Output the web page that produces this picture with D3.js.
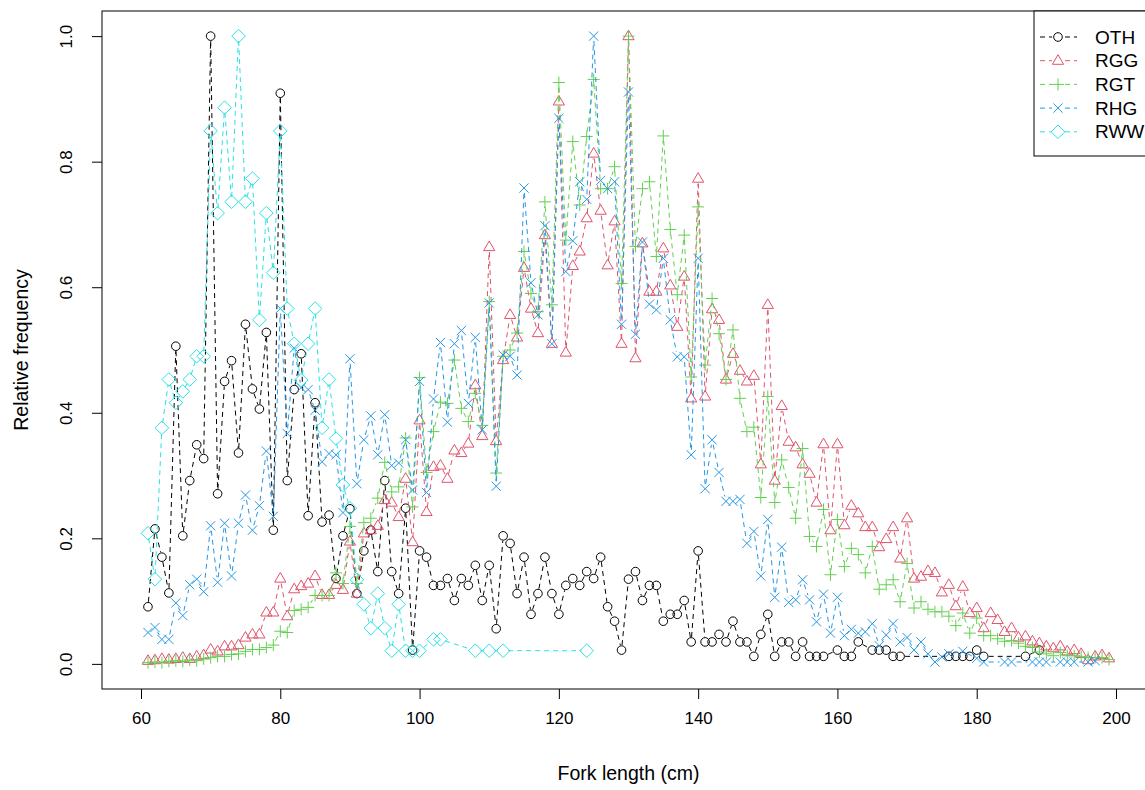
<!DOCTYPE html>
<html>
<head>
<meta charset="utf-8">
<script src="https://cdn.jsdelivr.net/npm/d3@7"></script>
<style>
  body { margin: 0; background: #fff; }
  svg { display: block; font-family: "Liberation Sans", Arial, sans-serif; }
</style>
</head>
<body>
<div id="chart"></div>
<script>
var W = 1145, H = 790;

// fork length categories (cm) and relative frequencies
var lenOTH = [61,62,63,64,65,66,67,68,69,70,71,72,73,74,75,76,77,78,79,80,81,82,83,84,85,86,87,88,89,90,
  91,92,93,94,95,96,97,98,99,100,101,102,103,104,105,106,107,108,109,110,111,112,113,114,115,116,117,118,119,120,
  121,122,123,124,125,126,127,128,129,130,131,132,133,134,135,136,137,138,139,140,141,142,143,144,145,146,147,148,149,150,
  151,152,153,154,155,156,157,158,160,161,162,163,165,166,167,168,169,176,177,178,179,180,181,187,189];
var valOTH = [0.091,0.215,0.17,0.113,0.506,0.204,0.292,0.349,0.327,1.0,0.271,0.45,0.483,0.336,0.541,0.438,0.406,0.528,0.213,0.909,
  0.292,0.437,0.494,0.236,0.416,0.226,0.237,0.136,0.204,0.247,0.112,0.18,0.213,0.147,0.292,0.147,0.112,0.248,0.022,0.18,
  0.17,0.125,0.125,0.136,0.101,0.136,0.125,0.157,0.101,0.157,0.056,0.204,0.192,0.112,0.17,0.079,0.112,0.17,0.112,0.079,
  0.125,0.136,0.125,0.147,0.136,0.17,0.091,0.068,0.022,0.135,0.147,0.101,0.125,0.125,0.068,0.079,0.079,0.101,0.035,0.18,
  0.035,0.035,0.047,0.035,0.068,0.035,0.035,0.012,0.047,0.079,0.012,0.035,0.035,0.012,0.035,0.012,0.012,0.012,0.022,0.012,
  0.012,0.035,0.022,0.022,0.022,0.012,0.012,0.012,0.012,0.012,0.012,0.022,0.012,0.012,0.022];

var lenRGG = d3.range(61, 200);
var valRGG = [0.005,0.006,0.008,0.007,0.008,0.01,0.008,0.012,0.014,0.023,0.02,0.028,0.028,0.03,0.042,0.047,0.047,0.082,0.082,0.136,
  0.076,0.119,0.124,0.128,0.14,0.11,0.11,0.126,0.118,0.195,0.112,0.208,0.213,0.22,0.261,0.257,0.234,0.295,0.194,0.388,
  0.242,0.314,0.316,0.295,0.34,0.336,0.351,0.444,0.363,0.664,0.355,0.484,0.556,0.52,0.631,0.566,0.527,0.683,0.51,0.896,
  0.496,0.634,0.657,0.71,0.813,0.722,0.635,0.705,0.51,1.0,0.487,0.67,0.593,0.593,0.662,0.603,0.537,0.617,0.423,0.773,
  0.426,0.565,0.548,0.453,0.494,0.467,0.45,0.459,0.318,0.572,0.292,0.411,0.354,0.345,0.318,0.303,0.257,0.35,0.213,0.35,
  0.221,0.252,0.24,0.218,0.218,0.186,0.199,0.218,0.168,0.232,0.136,0.139,0.148,0.145,0.114,0.126,0.092,0.123,0.081,0.089,
  0.057,0.081,0.07,0.051,0.057,0.042,0.044,0.036,0.033,0.028,0.025,0.028,0.02,0.022,0.016,0.006,0.012,0.014,0.009];

var lenRGT = d3.range(61, 200);
var valRGT = [0.002,0.003,0.002,0.004,0.005,0.004,0.006,0.005,0.008,0.01,0.012,0.012,0.015,0.016,0.02,0.023,0.023,0.026,0.03,0.052,
  0.05,0.085,0.087,0.09,0.109,0.109,0.109,0.145,0.128,0.219,0.128,0.225,0.232,0.264,0.321,0.274,0.282,0.36,0.25,0.456,
  0.305,0.37,0.417,0.415,0.484,0.407,0.386,0.431,0.38,0.577,0.304,0.49,0.5,0.527,0.657,0.59,0.561,0.736,0.572,0.926,
  0.675,0.832,0.731,0.84,0.931,0.757,0.757,0.792,0.606,1.0,0.665,0.757,0.768,0.649,0.841,0.692,0.588,0.683,0.457,0.728,
  0.476,0.582,0.526,0.453,0.532,0.423,0.37,0.377,0.265,0.426,0.257,0.325,0.281,0.232,0.343,0.203,0.187,0.246,0.142,0.23,
  0.155,0.184,0.174,0.145,0.187,0.119,0.126,0.134,0.099,0.16,0.089,0.099,0.087,0.083,0.083,0.076,0.061,0.081,0.049,0.073,
  0.045,0.045,0.04,0.036,0.037,0.033,0.028,0.026,0.019,0.016,0.013,0.018,0.013,0.013,0.012,0.01,0.01,0.01,0.007];

var lenRHG = [61,62,63,64,65,66,67,68,69,70,71,72,73,74,75,76,77,78,79,80,81,82,83,84,85,86,87,88,89,90,
  91,92,93,94,95,96,97,98,99,100,101,102,103,104,105,106,107,108,109,110,111,112,113,114,115,116,117,118,119,120,
  121,122,123,124,125,126,127,128,129,130,131,132,133,134,135,136,137,138,139,140,141,142,143,144,145,146,147,148,149,150,
  151,152,153,154,155,156,157,158,159,160,161,162,163,164,165,166,167,168,169,170,171,172,173,174,175,176,178,180,
  181,184,185,188,189,190,192,193,194,196,197];
var valRHG = [0.05,0.058,0.039,0.039,0.097,0.077,0.126,0.135,0.115,0.22,0.13,0.224,0.14,0.224,0.269,0.213,0.252,0.339,0.235,0.566,
  0.367,0.503,0.44,0.437,0.404,0.322,0.335,0.333,0.241,0.486,0.287,0.357,0.395,0.333,0.397,0.316,0.32,0.357,0.277,0.45,
  0.273,0.422,0.512,0.385,0.51,0.531,0.415,0.52,0.373,0.575,0.283,0.492,0.49,0.46,0.758,0.607,0.556,0.698,0.51,0.869,
  0.625,0.674,0.768,0.74,1.0,0.77,0.757,0.768,0.541,0.911,0.525,0.672,0.573,0.564,0.646,0.548,0.489,0.489,0.333,0.646,
  0.279,0.357,0.305,0.259,0.259,0.262,0.192,0.211,0.14,0.23,0.106,0.186,0.098,0.102,0.134,0.102,0.067,0.111,0.049,0.106,
  0.045,0.055,0.049,0.051,0.064,0.029,0.046,0.064,0.035,0.042,0.022,0.035,0.016,0.003,0.011,0.016,0.02,0.009,
  0.003,0.003,0.003,0.003,0.003,0.003,0.003,0.003,0.003,0.003,0.005];

var lenRWW = [61,62,63,64,65,66,67,68,69,70,71,72,73,74,75,76,77,78,79,80,81,82,83,84,85,86,87,88,89,90,
  91,92,93,94,95,96,97,98,99,100,102,103,108,110,112,124];
var valRWW = [0.208,0.135,0.376,0.453,0.416,0.434,0.453,0.49,0.49,0.849,0.718,0.886,0.736,1.0,0.736,0.773,0.548,0.718,0.623,0.849,
  0.566,0.51,0.452,0.51,0.566,0.376,0.453,0.359,0.285,0.248,0.134,0.095,0.057,0.112,0.057,0.021,0.095,0.021,0.021,0.021,
  0.039,0.039,0.021,0.021,0.021,0.021];

var seriesNames = ['OTH', 'RGG', 'RGT', 'RHG', 'RWW'];
var seriesLens = [lenOTH, lenRGG, lenRGT, lenRHG, lenRWW];
var seriesVals = [valOTH, valRGG, valRGT, valRHG, valRWW];
var colors = ['#000000', '#DF536B', '#61D04F', '#2297E6', '#28E2E5'];
var xTicks = [60, 80, 100, 120, 140, 160, 180, 200];
var yTicks = [0, 0.2, 0.4, 0.6, 0.8, 1.0];

// plot box (R style, 4% padding on each axis)
var box = { left: 102, right: 1155, top: 11, bottom: 689 };

var svg = d3.select('#chart').append('svg')
  .attr('width', W)
  .attr('height', H);

var x = d3.scaleLinear().domain([54.4, 205.6]).range([box.left, box.right]);
var y = d3.scaleLinear().domain([-0.04, 1.04]).range([box.bottom, box.top]);

// point symbols, one per series
var symbols = [
  function (g) { g.append('circle').attr('r', 4.3); },
  function (g) { g.append('path').attr('d', 'M0,-6L5.6,3.6L-5.6,3.6Z'); },
  function (g) { g.append('path').attr('d', 'M-6,0H6M0,-6V6'); },
  function (g) { g.append('path').attr('d', 'M-4.6,-4.6L4.6,4.6M-4.6,4.6L4.6,-4.6'); },
  function (g) { g.append('path').attr('d', 'M0,-6.8L6.8,0L0,6.8L-6.8,0Z'); }
];

// type="b": dashed segments with a gap around every point
var gap = 5;
seriesNames.forEach(function (name, s) {
  var pts = seriesLens[s].map(function (l, i) { return [x(l), y(seriesVals[s][i])]; });
  var segs = [];
  for (var i = 1; i < pts.length; i++) {
    var dx = pts[i][0] - pts[i - 1][0], dy = pts[i][1] - pts[i - 1][1];
    var len = Math.sqrt(dx * dx + dy * dy);
    if (len <= 2 * gap) continue;
    var ux = dx / len, uy = dy / len;
    segs.push([pts[i - 1][0] + ux * gap, pts[i - 1][1] + uy * gap, pts[i][0] - ux * gap, pts[i][1] - uy * gap]);
  }
  var g = svg.append('g').attr('class', 'series-' + name);
  g.selectAll('line').data(segs).enter().append('line')
    .attr('x1', d => d[0]).attr('y1', d => d[1])
    .attr('x2', d => d[2]).attr('y2', d => d[3])
    .attr('stroke', colors[s])
    .attr('stroke-width', 1)
    .attr('stroke-dasharray', '5,4');
  g.selectAll('g.pt').data(pts).enter().append('g')
    .attr('class', 'pt')
    .attr('transform', d => `translate(${d[0]},${d[1]})`)
    .attr('fill', 'none')
    .attr('stroke', colors[s])
    .attr('stroke-width', 1)
    .each(function () { symbols[s](d3.select(this)); });
});

// axes
var xAxis = svg.append('g')
  .attr('transform', `translate(0,${box.bottom})`)
  .call(d3.axisBottom(x).tickValues(xTicks).tickFormat(d3.format('d')).tickSize(10).tickPadding(13).tickSizeOuter(0));
xAxis.select('.domain').remove();
xAxis.selectAll('line').attr('stroke', '#000');
xAxis.selectAll('text').attr('font-size', 17).attr('fill', '#000').attr('font-family', 'Liberation Sans, Arial, sans-serif');

var yAxis = svg.append('g')
  .attr('transform', `translate(${box.left},0)`)
  .call(d3.axisLeft(y).tickValues(yTicks).tickFormat(d3.format('.1f')).tickSize(10).tickSizeOuter(0));
yAxis.select('.domain').remove();
yAxis.selectAll('line').attr('stroke', '#000');
yAxis.selectAll('text')
  .attr('x', null).attr('dy', null)
  .attr('text-anchor', 'middle')
  .attr('transform', 'translate(-30,0) rotate(-90)')
  .attr('font-size', 17).attr('fill', '#000').attr('font-family', 'Liberation Sans, Arial, sans-serif');

// frame
svg.append('rect')
  .attr('x', box.left).attr('y', box.top)
  .attr('width', box.right - box.left).attr('height', box.bottom - box.top)
  .attr('fill', 'none').attr('stroke', '#000').attr('stroke-width', 1);

// axis titles
svg.append('text')
  .attr('x', (box.left + box.right) / 2).attr('y', 780)
  .attr('text-anchor', 'middle').attr('font-size', 19.5)
  .text('Fork length (cm)');
svg.append('text')
  .attr('transform', `translate(28,${(box.top + box.bottom) / 2}) rotate(-90)`)
  .attr('text-anchor', 'middle').attr('font-size', 19.5)
  .text('Relative frequency');

// legend
var legend = svg.append('g');
legend.append('rect')
  .attr('x', 1034).attr('y', box.top).attr('width', 140).attr('height', 145)
  .attr('fill', '#fff').attr('stroke', '#000');
seriesNames.forEach(function (name, s) {
  var ly = 37 + s * 23.7;
  var row = legend.append('g').attr('transform', `translate(0,${ly})`);
  row.append('line').attr('x1', 1040).attr('x2', 1052).attr('y1', 0).attr('y2', 0)
    .attr('stroke', colors[s]).attr('stroke-dasharray', '5,4');
  row.append('line').attr('x1', 1065).attr('x2', 1077).attr('y1', 0).attr('y2', 0)
    .attr('stroke', colors[s]).attr('stroke-dasharray', '5,4');
  row.append('g').attr('transform', 'translate(1058,0)')
    .attr('fill', 'none').attr('stroke', colors[s])
    .each(function () { symbols[s](d3.select(this)); });
  row.append('text').attr('x', 1095).attr('y', 0).attr('dy', '0.35em')
    .attr('font-size', 19).text(name);
});
</script>
</body>
</html>
